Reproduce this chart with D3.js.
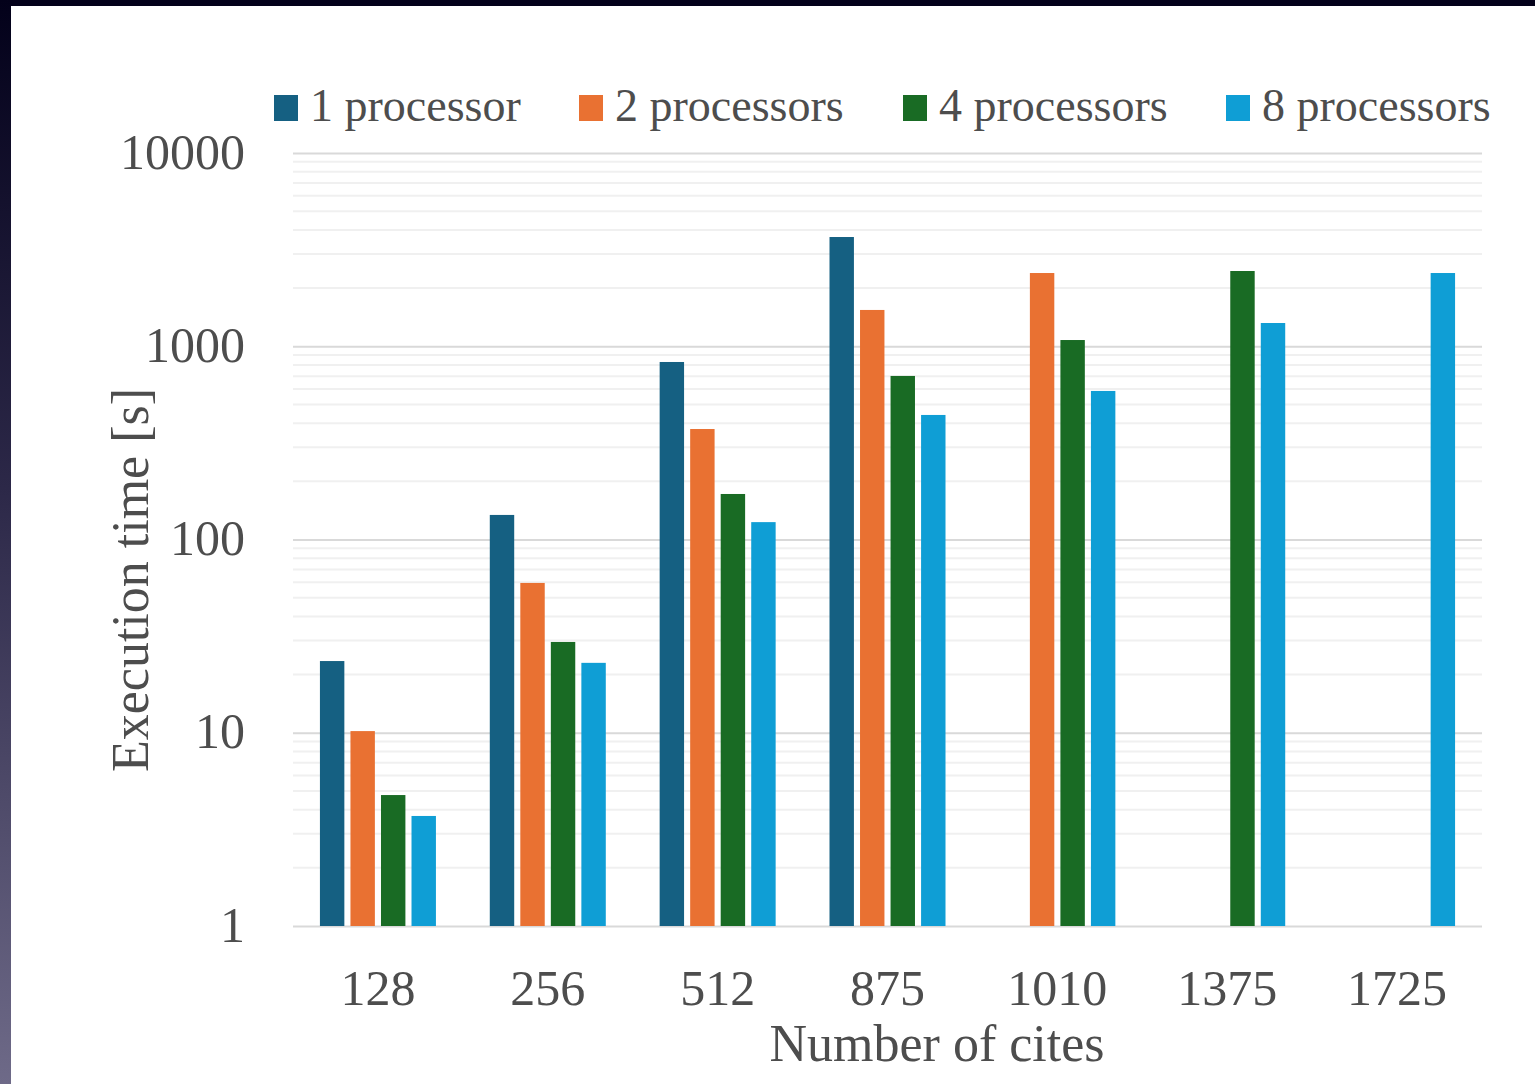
<!DOCTYPE html>
<html>
<head>
<meta charset="utf-8">
<script src="https://cdn.jsdelivr.net/npm/d3@7"></script>
<style>
  html, body { margin: 0; padding: 0; background: #ffffff; }
  svg { display: block; }
  text { font-family: "Liberation Serif", "Times New Roman", serif; fill: #4d4d4d; }
</style>
</head>
<body>
<svg id="chart" width="1535" height="1084"></svg>
<script>
// Number of cities per run and the processor configurations
const categories = ["128", "256", "512", "875", "1010", "1375", "1725"];
const seriesNames = ["1 processor", "2 processors", "4 processors", "8 processors"];
const seriesColors = ["#156082", "#E97132", "#196B24", "#0F9ED5"];

// Execution time in seconds (null = not run)
const oneProc   = [23.5, 134, 829, 3675, null, null, null];
const twoProc   = [10.2, 59.6, 373, 1541, 2393, null, null];
const fourProc  = [4.76, 29.5, 172, 702, 1077, 2451, null];
const eightProc = [3.71, 23.0, 123, 441, 587, 1319, 2393];

const yTicks = [1, 10, 100, 1000, 10000];

const series = [oneProc, twoProc, fourProc, eightProc];

const svg = d3.select("#chart");

// frame edges
const defs = svg.append("defs");
const grad = defs.append("linearGradient").attr("id", "edge").attr("x1", 0).attr("y1", 0).attr("x2", 0).attr("y2", 1);
grad.append("stop").attr("offset", "0%").attr("stop-color", "#03011a");
grad.append("stop").attr("offset", "45%").attr("stop-color", "#2c2848");
grad.append("stop").attr("offset", "100%").attr("stop-color", "#6e6a88");
svg.append("rect").attr("x", 0).attr("y", 0).attr("width", 1535).attr("height", 6).attr("fill", "#03011a");
svg.append("rect").attr("x", 0).attr("y", 0).attr("width", 11).attr("height", 1084).attr("fill", "url(#edge)");

const plot = { left: 293, right: 1482, top: 153, bottom: 926 };

const x0 = d3.scaleBand().domain(categories).range([plot.left, plot.right]).padding(0);
const x1 = d3.scaleBand().domain(d3.range(seriesNames.length)).range([-58, 58]).paddingInner(0.2).paddingOuter(0);
const y = d3.scaleLog().domain([1, 10000]).range([plot.bottom, plot.top]);

// minor gridlines (2..9 in every decade)
const minor = [];
for (let d = 1; d < 10000; d *= 10) for (let k = 2; k <= 9; k++) minor.push(d * k);
svg.append("g").selectAll("line").data(minor).join("line")
  .attr("x1", plot.left).attr("x2", plot.right)
  .attr("y1", d => y(d)).attr("y2", d => y(d))
  .attr("stroke", "#f0f0f0").attr("stroke-width", 2);

// major gridlines with the y axis labels
const yAxis = d3.axisLeft(y).tickValues(yTicks).tickFormat(d3.format("d")).tickSize(-(plot.right - plot.left)).tickPadding(48);
const gy = svg.append("g").attr("transform", `translate(${plot.left},0)`).call(yAxis);
gy.select(".domain").remove();
gy.selectAll(".tick line").attr("stroke", "#d9d9d9").attr("stroke-width", 2);
gy.selectAll(".tick text").attr("font-size", 50).attr("fill", "#4d4d4d")
  .attr("font-family", "Liberation Serif, serif").attr("dy", "0.3em");

// bars
const groups = svg.append("g").selectAll("g").data(categories).join("g")
  .attr("transform", d => `translate(${x0(d) + x0.bandwidth() / 2},0)`);
groups.selectAll("rect")
  .data((c, ci) => series.map((s, si) => ({ si, v: s[ci] })).filter(d => d.v != null))
  .join("rect")
  .attr("x", d => x1(d.si))
  .attr("width", x1.bandwidth())
  .attr("y", d => y(d.v))
  .attr("height", d => y(1) - y(d.v))
  .attr("fill", d => seriesColors[d.si]);

// x axis labels
const xAxis = d3.axisBottom(x0).tickSize(0).tickPadding(0);
const gx = svg.append("g").attr("transform", `translate(0,${plot.bottom})`).call(xAxis);
gx.select(".domain").remove();
gx.selectAll(".tick text").attr("font-size", 50).attr("fill", "#4d4d4d")
  .attr("font-family", "Liberation Serif, serif")
  .attr("dy", null).attr("y", 79);

// axis titles
svg.append("text").attr("x", 937).attr("y", 1061).attr("text-anchor", "middle")
  .attr("font-size", 52).text("Number of cites");
svg.append("text").attr("transform", "translate(148,580) rotate(-90)").attr("text-anchor", "middle")
  .attr("font-size", 52).text("Execution time [s]");

// legend
const legendX = [274, 579, 903, 1226];
const lg = svg.append("g").selectAll("g").data(seriesNames).join("g")
  .attr("transform", (d, i) => `translate(${legendX[i]},0)`);
lg.append("rect").attr("x", 0).attr("y", 95).attr("width", 24).attr("height", 26)
  .attr("fill", (d, i) => seriesColors[i]);
lg.append("text").attr("x", 36).attr("y", 121).attr("font-size", 46).text(d => d);
</script>
</body>
</html>
